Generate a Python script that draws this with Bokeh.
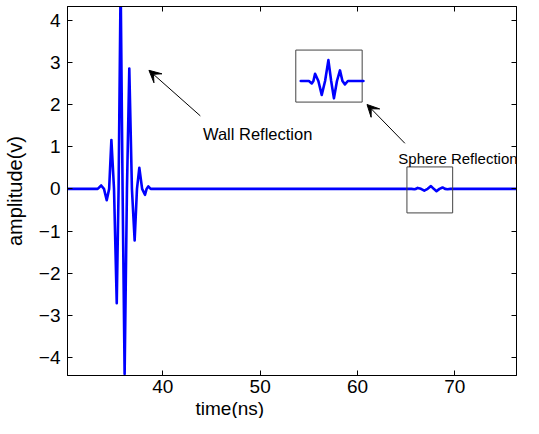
from bokeh.plotting import figure
from bokeh.models import Range1d, LinearAxis, FixedTicker, Label, Arrow, VeeHead, Title
from bokeh.embed import file_html
from bokeh.resources import INLINE

# ---- data (time in ns, amplitude in V) ----
# wall reflection: extrema and zero crossings
wall_t = [33.30, 33.66, 33.95, 34.23, 34.48, 34.71, 34.98, 35.26, 35.45, 35.66, 35.86,
          36.07, 36.31, 36.55, 36.82, 37.10, 37.34, 37.58, 37.87, 38.16, 38.33, 38.50, 38.75]
wall_v = [0.0, 0.08, 0.0, -0.27, 0.0, 1.16, 0.0, -2.71, 0.0, 4.90, 0.0,
          -4.39, 0.0, 2.85, 0.0, -1.22, 0.0, 0.50, 0.0, -0.14, 0.0, 0.06, 0.0]

# sphere reflection (tiny echo)
echo_t = [64.71, 65.55, 65.84, 66.01, 66.18, 66.52, 66.865, 67.21, 67.55, 67.835,
          68.12, 68.43, 68.74, 68.995, 69.25, 69.55, 71.15]
echo_v = [0.0, 0.0, -0.0075, 0.0, 0.0227, 0.0, -0.0434, 0.0, 0.0651, 0.0,
          -0.054, 0.0, 0.033, 0.0, -0.0105, 0.0, 0.0]

t_start, t_end = 30.2, 76.34
x_ticks = [40, 50, 60, 70]
y_ticks = [-4, -3, -2, -1, 0, 1, 2, 3, 4]

# inset (magnified echo) placement
INSET_SHIFT = 10.54
INSET_BASE = 2.557
INSET_GAIN = 7.6

time = [t_start] + wall_t + echo_t + [t_end]
amp = [0.0] + wall_v + echo_v + [0.0]

FONT = "Liberation Sans"

p = figure(width=523, height=418, output_backend="svg", toolbar_location=None,
           x_range=Range1d(t_start, t_end), y_range=Range1d(-4.424, 4.323),
           min_border_left=65, min_border_right=7, min_border_top=6, min_border_bottom=30,
           background_fill_color="white", border_fill_color="white")
p.xgrid.visible = False
p.ygrid.visible = False
p.outline_line_color = "black"
p.outline_line_width = 1

for ax, ticks in ((p.xaxis[0], x_ticks), (p.yaxis[0], y_ticks)):
    ax.ticker = FixedTicker(ticks=ticks)
    ax.major_tick_in = 5
    ax.major_tick_out = 0
    ax.minor_tick_line_color = None
    ax.major_label_text_font = FONT
    ax.major_label_text_font_size = "19px"
    ax.major_label_text_color = "black"
    ax.axis_line_color = "black"
    ax.major_tick_line_color = "black"

p.xaxis.major_label_standoff = 4
p.yaxis.major_label_standoff = 7
p.yaxis.axis_label = "amplitude(v)"
p.yaxis.axis_label_text_font = FONT
p.yaxis.axis_label_text_font_size = "20px"
p.yaxis.axis_label_text_font_style = "normal"
p.yaxis.axis_label_text_color = "black"
p.yaxis.axis_label_standoff = 10

# box ticks on top and right (no labels)
top = LinearAxis(ticker=FixedTicker(ticks=x_ticks), major_tick_in=5, major_tick_out=0,
                 minor_tick_line_color=None,
                 major_label_overrides={t: "" for t in x_ticks},
                 major_label_standoff=0, axis_line_color="black")
right = LinearAxis(ticker=FixedTicker(ticks=y_ticks), major_tick_in=5, major_tick_out=0,
                   minor_tick_line_color=None,
                   major_label_overrides={t: "" for t in y_ticks},
                   major_label_standoff=0, axis_line_color="black")
p.add_layout(top, "above")
p.add_layout(right, "right")

# x axis title, placed left of centre as in the reference
p.add_layout(Title(text="time(ns)", align="left", offset=128, standoff=0,
                   text_font=FONT, text_font_size="19px", text_font_style="normal",
                   text_color="black"), "below")

# main signal
p.line(time, amp, line_color="#0000FF", line_width=2.6, line_join="round", line_cap="round")

# box around the echo
p.quad(left=[65.08], right=[69.78], bottom=[-0.57], top=[0.52],
       fill_color=None, line_color="#444444", line_width=1)

# inset with magnified echo
p.quad(left=[53.66], right=[60.48], bottom=[2.057], top=[3.29],
       fill_color=None, line_color="#444444", line_width=1)
inset_x = [t - INSET_SHIFT for t in echo_t]
inset_y = [INSET_BASE + INSET_GAIN * v for v in echo_v]
p.line(inset_x, inset_y, line_color="#0000FF", line_width=2.6, line_join="round", line_cap="round")

# arrows
p.add_layout(Arrow(end=VeeHead(size=12, fill_color="black", line_color="black"),
                   x_start=43.85, y_start=1.73, x_end=38.57, y_end=2.81,
                   line_color="black", line_width=1))
p.add_layout(Arrow(end=VeeHead(size=12, fill_color="black", line_color="black"),
                   x_start=64.87, y_start=1.08, x_end=60.98, y_end=2.0,
                   line_color="black", line_width=1))

p.add_layout(Label(x=44.12, y=1.30, text="Wall Reflection", text_font=FONT,
                   text_font_size="16.5px", text_color="black", text_baseline="alphabetic"))
p.add_layout(Label(x=64.2, y=0.71, text="Sphere Reflection", text_font=FONT,
                   text_font_size="15px", text_color="black", text_baseline="alphabetic"))

open("out.html", "w").write(file_html(p, INLINE))
